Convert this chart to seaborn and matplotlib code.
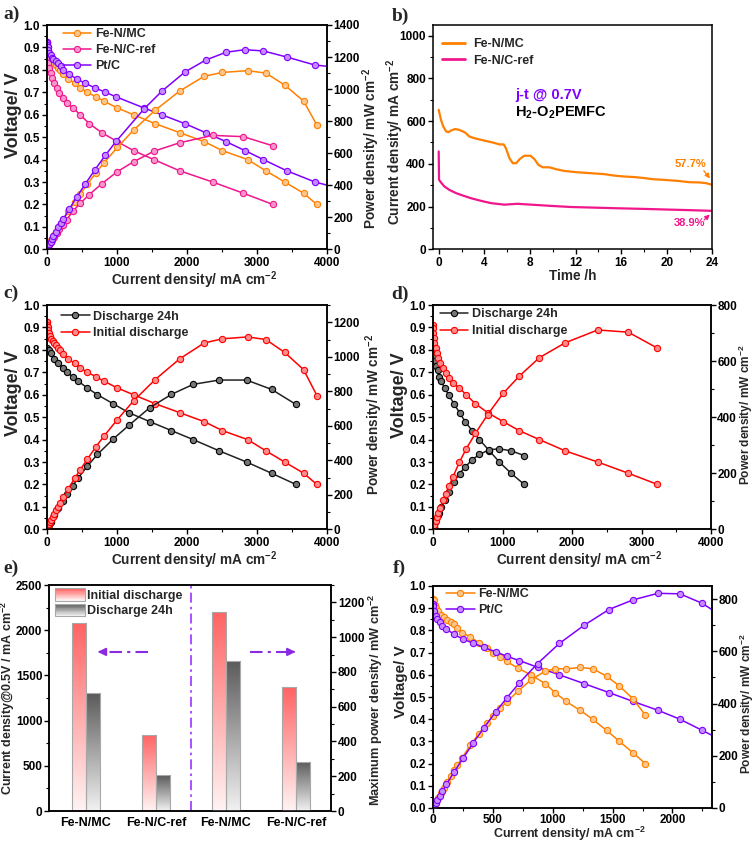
import numpy as np
import pandas as pd
import matplotlib
matplotlib.use("Agg")
import matplotlib.pyplot as plt
import matplotlib.colors as mcolors
import seaborn as sns
from matplotlib.ticker import MultipleLocator
from matplotlib.legend_handler import HandlerBase
from matplotlib.patches import Rectangle
from matplotlib.lines import Line2D

# ---------------- data ----------------
# (a) H2-O2 polarization / power curves
a_mc_j = [0, 3, 9, 16, 23, 35, 48, 65, 85, 108, 133, 160, 190, 238, 310, 400, 476, 580, 705, 820,
          1010, 1240, 1550, 1900, 2250, 2510, 2870, 3130, 3400, 3670, 3860]
a_mc_v = [0.925, 0.922, 0.91, 0.90, 0.89, 0.875, 0.86, 0.85, 0.84, 0.83, 0.82, 0.81, 0.80, 0.78, 0.76,
          0.74, 0.72, 0.70, 0.68, 0.66, 0.63, 0.60, 0.56, 0.52, 0.48, 0.44, 0.40, 0.35, 0.30, 0.25, 0.20]
a_mc_p = [0, 3, 8, 14, 20, 31, 41, 55, 71, 90, 109, 130, 152, 186, 236, 296, 343, 406, 479, 541,
          636, 744, 868, 988, 1080, 1104, 1115, 1100, 1025, 925, 775]

a_ref_j = [0, 2, 5, 10, 19, 38, 57, 76, 104, 143, 181, 228, 286, 381, 476, 610, 786, 1010, 1240,
           1530, 1900, 2370, 2810, 3230]
a_ref_v = [0.91, 0.896, 0.874, 0.852, 0.829, 0.807, 0.785, 0.762, 0.74, 0.718, 0.695, 0.673, 0.651,
           0.63, 0.60, 0.56, 0.52, 0.48, 0.44, 0.40, 0.35, 0.30, 0.25, 0.20]
a_ref_p = [0, 2, 4, 9, 16, 31, 45, 58, 77, 103, 126, 153, 186, 240, 286, 342, 409, 485, 546,
           612, 665, 711, 703, 646]

a_pt_j = [0, 3, 9, 16, 25, 38, 55, 75, 95, 130, 166, 200, 238, 319, 429, 548, 690, 838, 990, 1390,
          1643, 1976, 2271, 2562, 2833, 3095, 3430, 3833, 4200]
a_pt_v = [0.925, 0.92, 0.91, 0.90, 0.89, 0.875, 0.865, 0.855, 0.847, 0.84, 0.83, 0.815, 0.80, 0.78,
          0.76, 0.74, 0.72, 0.70, 0.68, 0.63, 0.60, 0.56, 0.52, 0.48, 0.44, 0.40, 0.35, 0.30, 0.27]
a_pt_p = [0, 3, 8, 14, 22, 33, 48, 64, 80, 109, 138, 163, 190, 249, 326, 406, 497, 587, 673, 876,
          986, 1107, 1181, 1230, 1246, 1238, 1200, 1150, 1134]

# (b) j-t at 0.7 V
b_mc_t = [0, 0.2, 0.4, 0.65, 0.85, 1.08, 1.43, 1.81, 2.31, 2.69, 3.13, 4.0, 4.74, 5.33, 5.7, 5.9,
          6.2, 6.5, 6.8, 7.1, 7.5, 8.05, 8.4, 8.75, 9.13, 9.7, 10.3, 11.0, 12.06, 13.4, 14.5, 15.4,
          16.2, 17.2, 18.1, 18.8, 19.8, 21.0, 22.0, 22.9, 23.5, 24.0]
b_mc_j = [653, 606, 575, 552, 548, 556, 563, 559, 547, 528, 520, 509, 500, 491, 491, 473,
          427, 403, 403, 422, 438, 438, 422, 395, 384, 384, 375, 367, 361, 356, 352, 345,
          341, 338, 333, 328, 325, 320, 314, 313, 309, 302]
b_ref_t = [0, 0.03, 0.2, 0.5, 0.94, 1.52, 2.1, 2.84, 3.7, 4.6, 5.77, 6.9, 8.4, 9.9, 11.6, 13.7,
           15.7, 18.1, 20.1, 22.2, 24.0]
b_ref_j = [458, 325, 313, 294, 278, 263, 252, 239, 227, 216, 209, 213, 208, 203, 198, 195,
           192, 189, 186, 183, 180]

# (c) Fe-N/MC after 24 h discharge (initial = a_mc)
c_24_j = [0, 10, 29, 57, 110, 167, 229, 295, 371, 452, 581, 724, 949, 1172, 1473, 1782, 2092,
          2463, 2855, 3212, 3560]
c_24_v = [0.81, 0.80, 0.80, 0.785, 0.76, 0.74, 0.72, 0.70, 0.68, 0.66, 0.63, 0.60, 0.56, 0.52,
          0.48, 0.44, 0.40, 0.35, 0.30, 0.25, 0.20]
c_24_p = [0, 8, 23, 45, 84, 124, 165, 207, 252, 298, 366, 434, 523, 602, 705, 782, 840,
          865, 865, 811, 724]

# (d) Fe-N/C-ref after 24 h discharge (initial = a_ref)
d_24_j = [0, 5, 10, 20, 35, 50, 70, 86, 119, 167, 224, 301, 382, 463, 563, 668, 811, 955, 1122, 1313]
d_24_v = [0.83, 0.81, 0.79, 0.77, 0.75, 0.73, 0.71, 0.68, 0.66, 0.63, 0.60, 0.56, 0.52, 0.48,
          0.44, 0.40, 0.35, 0.30, 0.25, 0.20]
d_24_p = [0, 4, 8, 15, 26, 37, 50, 58, 79, 105, 134, 169, 199, 222, 248, 267, 284, 287, 280, 263]

# (e) bar summary
e_groups = ["Fe-N/MC", "Fe-N/C-ref"]
e_states = ["Initial discharge", "Discharge 24h"]
e_j_initial = [2080, 845]
e_j_24h = [1300, 395]
e_p_initial = [1145, 712]
e_p_24h = [865, 284]

# (f) H2-air
f_mc_j = [0, 8, 17, 28, 44, 64, 91, 119, 147, 175, 202, 244, 313, 383, 452, 504, 560, 615, 709,
          817, 937, 1020, 1111, 1228, 1333, 1449, 1557, 1668, 1773]
f_mc_v = [0.94, 0.935, 0.916, 0.90, 0.886, 0.871, 0.859, 0.849, 0.837, 0.827, 0.812, 0.79, 0.77,
          0.745, 0.72, 0.70, 0.68, 0.66, 0.63, 0.60, 0.56, 0.52, 0.48, 0.44, 0.40, 0.35, 0.30,
          0.25, 0.20]
f_mc_p = [0, 7, 16, 25, 39, 56, 78, 101, 123, 145, 164, 193, 241, 285, 325, 353, 381, 406, 447,
          490, 524, 533, 533, 538, 533, 505, 467, 419, 356]
f_pt_j = [0, 4, 8, 22, 36, 55, 78, 111, 175, 253, 337, 425, 522, 619, 721, 873, 1055, 1263, 1469,
          1671, 1879, 2062, 2247, 2430]
f_pt_v = [0.92, 0.908, 0.886, 0.867, 0.852, 0.837, 0.822, 0.807, 0.782, 0.76, 0.742, 0.723,
          0.704, 0.683, 0.664, 0.634, 0.60, 0.56, 0.52, 0.48, 0.44, 0.40, 0.35, 0.30]
f_pt_p = [0, 4, 7, 19, 31, 46, 64, 90, 137, 192, 250, 307, 367, 423, 479, 553, 630, 700, 760,
          797, 822, 820, 784, 730]

# ---------------- style ----------------
ORANGE = "#FF8000"
PINK = "#F0168C"
PURPLE = "#8000FF"
RED = "#FF0000"
BLACK = "#222222"

sns.set_theme(style="ticks")
plt.rcParams.update({
    "font.family": ["Liberation Sans", "DejaVu Sans"],
    "font.weight": "bold",
    "axes.labelweight": "bold",
    "mathtext.default": "regular",
    "axes.linewidth": 1.1,
    "xtick.major.width": 1.0, "ytick.major.width": 1.0,
    "xtick.minor.width": 0.8, "ytick.minor.width": 0.8,
    "xtick.major.size": 3.5, "ytick.major.size": 3.5,
    "xtick.minor.size": 2.0, "ytick.minor.size": 2.0,
    "xtick.labelsize": 8.5, "ytick.labelsize": 8.5,
    "xtick.color": "black", "ytick.color": "black",
    "axes.edgecolor": "black",
    "xtick.major.pad": 2.0, "ytick.major.pad": 1.5,
})

W, H = 756, 843
fig = plt.figure(figsize=(W / 100, H / 100), dpi=100)


def pos(l, r, t, b):
    return [l / W, 1 - b / H, (r - l) / W, (b - t) / H]


def light(c, f=0.55):
    c = np.array(mcolors.to_rgb(c))
    return tuple(c + (1 - c) * f)


XLAB = "Current density/ mA cm$^{-2}$"
PLAB = "Power density/ mW cm$^{-2}$"
LAB_FS = 9.8


def curve(ax, x, y, color, mfc=None, mec=None):
    sns.lineplot(x=x, y=y, ax=ax, color=color, lw=1.1, marker="o", markersize=4.5,
                 markerfacecolor=mfc if mfc else light(color), markeredgecolor=mec if mec else color,
                 markeredgewidth=0.8, sort=False, estimator=None, legend=False)


def base_axes(ax, xlim, xmaj, ylim, ymaj):
    ax.set_xlim(*xlim)
    ax.set_ylim(*ylim)
    ax.xaxis.set_major_locator(MultipleLocator(xmaj))
    ax.xaxis.set_minor_locator(MultipleLocator(xmaj / 2))
    ax.yaxis.set_major_locator(MultipleLocator(ymaj))
    ax.yaxis.set_minor_locator(MultipleLocator(ymaj / 2))
    ax.tick_params(which="both", direction="out", top=False, right=False)
    for s in ax.spines.values():
        s.set_visible(True)
        s.set_linewidth(1.1)


def line_handle(color, mfc=None, mec=None, marker=True):
    if marker:
        return Line2D([], [], color=color, lw=1.1, marker="o", markersize=4.5,
                      markerfacecolor=mfc if mfc else light(color),
                      markeredgecolor=mec if mec else color, markeredgewidth=0.8)
    return Line2D([], [], color=color, lw=2.0)


def polar_panel(rect, xlim, xmaj, plim, pmaj, series, legend_xy, hl, htp,
                xpad=0, vpad=1, ppad=2, lsp=0.32, vy=0.6, py=0.5, vfs=13, xfs=LAB_FS,
                pfs=LAB_FS, xx=0.5, rpad=1.5):
    ax = fig.add_axes(rect)
    base_axes(ax, xlim, xmaj, (0, 1.0), 0.1)
    ax2 = ax.twinx()
    ax2.yaxis.set_major_locator(MultipleLocator(pmaj))
    ax2.yaxis.set_minor_locator(MultipleLocator(pmaj / 2))
    ax2.tick_params(which="both", direction="out", left=False, right=True)
    ax2.tick_params(axis="y", pad=rpad)
    handles, labels = [], []
    for (lab, j, v, p, col, mfc, mec) in series:
        curve(ax, j, v, col, mfc, mec)
        curve(ax2, j, p, col, mfc, mec)
        handles.append(line_handle(col, mfc, mec))
        labels.append(lab)
    ax.set_xlim(*xlim)
    ax.set_ylim(0, 1.0)
    ax2.set_ylim(*plim)
    ax.set_xlabel(XLAB, fontsize=xfs, labelpad=xpad)
    ax.xaxis.label.set_x(xx)
    ax.set_ylabel("Voltage/ V", fontsize=vfs, labelpad=vpad)
    ax.yaxis.label.set_y(vy)
    ax2.set_ylabel(PLAB, fontsize=pfs, labelpad=ppad)
    ax2.yaxis.label.set_y(py)
    ax2.legend(handles, labels, loc="upper left", bbox_to_anchor=legend_xy, frameon=False,
               fontsize=9, handlelength=hl, handletextpad=htp, labelspacing=lsp,
               borderaxespad=0, borderpad=0)
    return ax, ax2


# ---------------- (a) ----------------
polar_panel(pos(46.7, 326.7, 25, 249.3), (0, 4000), 1000, (0, 1400), 200,
            [("Fe-N/MC", a_mc_j, a_mc_v, a_mc_p, ORANGE, None, None),
             ("Fe-N/C-ref", a_ref_j, a_ref_v, a_ref_p, PINK, None, None),
             ("Pt/C", a_pt_j, a_pt_v, a_pt_p, PURPLE, None, None)],
            (0.058, 0.985), 2.25, 0.3, ppad=0, vy=0.6, py=0.45, xx=0.526)

# ---------------- (b) ----------------
axb = fig.add_axes(pos(433, 712.3, 25, 249.3))
base_axes(axb, (-0.5, 24), 4, (0, 1050), 200)
sns.lineplot(x=b_mc_t, y=b_mc_j, ax=axb, color=ORANGE, lw=1.6, sort=False, estimator=None, legend=False)
sns.lineplot(x=b_ref_t, y=b_ref_j, ax=axb, color=PINK, lw=1.6, sort=False, estimator=None, legend=False)
axb.set_xlim(-0.5, 24)
axb.set_ylim(0, 1050)
axb.set_xlabel("Time /h", fontsize=LAB_FS, labelpad=0)
axb.set_ylabel("Current density/ mA cm$^{-2}$", fontsize=LAB_FS, labelpad=-4.5)
axb.yaxis.label.set_y(0.48)
axb.legend([line_handle(ORANGE, marker=False), line_handle(PINK, marker=False)],
           ["Fe-N/MC", "Fe-N/C-ref"], loc="upper left", bbox_to_anchor=(0.031, 0.94),
           frameon=False, fontsize=9, handlelength=1.9, handletextpad=0.6, labelspacing=0.35,
           borderaxespad=0, borderpad=0)
axb.text(6.7, 723, "j-t @ 0.7V", color=PURPLE, fontsize=10.5, fontweight="bold", va="center")
axb.text(6.7, 640, "H$_2$-O$_2$PEMFC", color="black", fontsize=10.5, fontweight="bold", va="center")
axb.text(20.7, 400, "57.7%", color=ORANGE, fontsize=8, fontweight="bold", va="center")
axb.text(20.6, 125, "38.9%", color=PINK, fontsize=8, fontweight="bold", va="center")
axb.annotate("", xy=(23.95, 322), xytext=(23.1, 378),
             arrowprops=dict(arrowstyle="-|>", color=ORANGE, lw=0.9, mutation_scale=7))
axb.annotate("", xy=(23.95, 172), xytext=(23.1, 128),
             arrowprops=dict(arrowstyle="-|>", color=PINK, lw=0.9, mutation_scale=7))

# ---------------- (c) ----------------
polar_panel(pos(46.7, 326.7, 305, 529.3), (0, 4000), 1000, (0, 1300), 200,
            [("Discharge 24h", c_24_j, c_24_v, c_24_p, BLACK, "#777777", "black"),
             ("Initial discharge", a_mc_j, a_mc_v, a_mc_p, RED, None, None)],
            (0.05, 0.975), 2.35, 0.27, lsp=0.38, vy=0.605, py=0.51, xx=0.526)

# ---------------- (d) ----------------
polar_panel(pos(433, 711, 305, 529.3), (0, 4000), 1000, (0, 800), 200,
            [("Discharge 24h", d_24_j, d_24_v, d_24_p, BLACK, "#777777", "black"),
             ("Initial discharge", a_ref_j, a_ref_v, a_ref_p, RED, None, None)],
            (0.024, 0.985), 2.27, 0.3, ppad=0, lsp=0.38, vy=0.6, py=0.51, pfs=8.6, xx=0.526,
            rpad=1.0)

# ---------------- (e) ----------------
axe = fig.add_axes(pos(49.3, 331, 585, 811))
cats = ["MC_j", "ref_j", "MC_p", "ref_p"]
df_j = pd.DataFrame({"cat": ["MC_j", "ref_j"] * 2,
                     "state": [e_states[0]] * 2 + [e_states[1]] * 2,
                     "val": e_j_initial + e_j_24h})
df_p = pd.DataFrame({"cat": ["MC_p", "ref_p"] * 2,
                     "state": [e_states[0]] * 2 + [e_states[1]] * 2,
                     "val": e_p_initial + e_p_24h})
RED_TOP, RED_BOT = "#FF6363", "#FFF4F4"
GR_TOP, GR_BOT = "#5A5A5A", "#F2F2F2"
sns.barplot(data=df_j, x="cat", y="val", hue="state", order=cats, hue_order=e_states,
            palette=[RED_TOP, GR_TOP], saturation=1, width=0.4, ax=axe, legend=False, errorbar=None)
axe2 = axe.twinx()
sns.barplot(data=df_p, x="cat", y="val", hue="state", order=cats, hue_order=e_states,
            palette=[RED_TOP, GR_TOP], saturation=1, width=0.4, ax=axe2, legend=False, errorbar=None)


def gradient_fill(ax, ylim):
    for patch in list(ax.patches):
        x0, y0 = patch.get_x(), patch.get_y()
        w, h = patch.get_width(), patch.get_height()
        if h == 0 or np.isnan(h):
            continue
        r, g, b, _ = patch.get_facecolor()
        top, bot = (RED_TOP, RED_BOT) if (r - g) > 0.2 else (GR_TOP, GR_BOT)
        c1, c2 = np.array(mcolors.to_rgb(top)), np.array(mcolors.to_rgb(bot))
        t = np.linspace(0, 1, 256)[:, None]
        img = (c1 * (1 - t) + c2 * t)[:, None, :]
        im = ax.imshow(img, extent=[x0, x0 + w, y0, y0 + h], origin="upper", aspect="auto",
                       zorder=patch.get_zorder(), interpolation="bilinear")
        im.set_clip_path(patch)
        patch.set_facecolor("none")
        patch.set_edgecolor("#A8A8A8")
        patch.set_linewidth(0.8)
        patch.set_zorder(patch.get_zorder() + 0.1)
    ax.set_ylim(*ylim)


gradient_fill(axe, (0, 2500))
gradient_fill(axe2, (0, 1300))
axe.set_xlim(-0.524, 3.5)
axe2.set_xlim(-0.524, 3.5)
axe.set_ylim(0, 2500)
axe2.set_ylim(0, 1300)
axe.yaxis.set_major_locator(MultipleLocator(500))
axe.yaxis.set_minor_locator(MultipleLocator(250))
axe2.yaxis.set_major_locator(MultipleLocator(200))
axe2.yaxis.set_minor_locator(MultipleLocator(100))
axe.tick_params(which="both", direction="out", top=False, right=False)
axe.tick_params(axis="x", length=0, labelsize=9, pad=4)
axe2.tick_params(which="both", direction="out", left=False, right=True)
axe.set_xticks([0, 1, 2, 3])
axe.set_xticklabels(e_groups + e_groups)
axe.set_xlabel("")
axe.set_ylabel("Current density@0.5V / mA cm$^{-2}$", fontsize=9.0, labelpad=-1)
axe.yaxis.label.set_y(0.5)
axe2.set_ylabel("Maximum power density/ mW cm$^{-2}$", fontsize=9.2, labelpad=2)
axe2.yaxis.label.set_y(0.49)
for s in axe.spines.values():
    s.set_linewidth(1.1)
DASH = (0, (6, 2.5, 1.5, 2.5))
axe.axvline(1.5, color="#9933FF", lw=1.2, linestyle=DASH)
axe.plot([0.89, 0.2], [1760, 1760], color="#8A2BE2", lw=1.5, linestyle=DASH)
axe.annotate("", xy=(0.128, 1760), xytext=(0.25, 1760),
             arrowprops=dict(arrowstyle="-|>", color="#8A2BE2", lw=1.5, mutation_scale=11))
axe.plot([2.343, 2.96], [1760, 1760], color="#8A2BE2", lw=1.5, linestyle=DASH)
axe.annotate("", xy=(3.033, 1760), xytext=(2.91, 1760),
             arrowprops=dict(arrowstyle="-|>", color="#8A2BE2", lw=1.5, mutation_scale=11))


class GradHandler(HandlerBase):
    def __init__(self, top, bot, n=16):
        super().__init__()
        self.top, self.bot, self.n = top, bot, n

    def create_artists(self, legend, orig_handle, xdescent, ydescent, width, height, fontsize, trans):
        c1, c2 = np.array(mcolors.to_rgb(self.top)), np.array(mcolors.to_rgb(self.bot))
        arts = []
        for i in range(self.n):
            f = i / (self.n - 1)
            col = tuple(c1 * (1 - f) + c2 * f)
            arts.append(Rectangle((-xdescent, -ydescent + height * (1 - (i + 1) / self.n)), width,
                                  height / self.n * 1.02, facecolor=col, edgecolor="none",
                                  transform=trans))
        arts.append(Rectangle((-xdescent, -ydescent), width, height, facecolor="none",
                              edgecolor="#A8A8A8", lw=0.8, transform=trans))
        return arts


h1 = Rectangle((0, 0), 1, 1)
h2 = Rectangle((0, 0), 1, 1)
axe2.legend([h1, h2], e_states, loc="upper left", bbox_to_anchor=(0.02, 0.985), frameon=False,
            fontsize=9, handlelength=2.4, handleheight=1.15, handletextpad=0.2, labelspacing=0.15,
            borderaxespad=0, borderpad=0,
            handler_map={h1: GradHandler(RED_TOP, RED_BOT), h2: GradHandler(GR_TOP, GR_BOT)})

# ---------------- (f) ----------------
axf, axf2 = polar_panel(pos(433, 712, 586, 808), (0, 2330), 500, (0, 850), 200,
                        [("Fe-N/MC", f_mc_j, f_mc_v, f_mc_p, ORANGE, None, None),
                         ("Pt/C", f_pt_j, f_pt_v, f_pt_p, PURPLE, None, None)],
                        (0.046, 0.99), 2.3, 0.25, xpad=-1.0, ppad=0, lsp=0.3,
                        vy=0.57, py=0.47, vfs=11, xfs=9.0, pfs=8.6, xx=0.49, rpad=1.0)
axf.tick_params(axis="x", pad=1)

# ---------------- panel letters ----------------
for txt, x, y in [("a)", 3.3, 18.7), ("b)", 391.3, 20.7), ("c)", 3.3, 298.3),
                  ("d)", 391.3, 299.3), ("e)", 3.3, 572.7), ("f)", 393, 573.3)]:
    fig.text(x / W, 1 - y / H, txt, fontfamily=["Liberation Serif", "DejaVu Serif"],
             fontweight="bold", fontsize=14, va="baseline", ha="left")

fig.savefig("out.png", dpi=100)
